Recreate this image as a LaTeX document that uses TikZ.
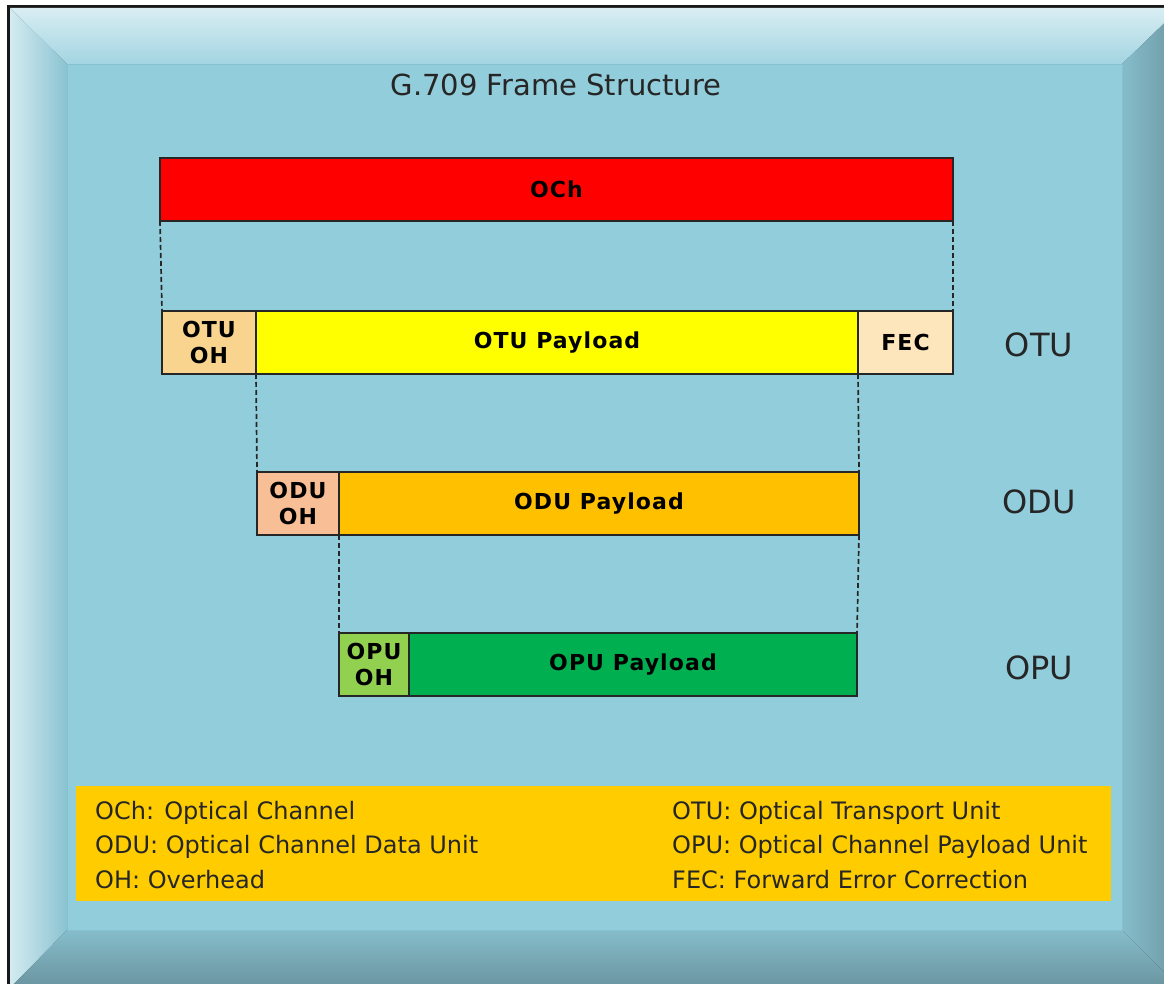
\documentclass[tikz,border=0pt]{standalone}
\usepackage{fontspec}
\setmainfont{DejaVu Sans}
\usetikzlibrary{positioning}
\definecolor{panel}{HTML}{92CDDC}
\definecolor{panelEdge}{HTML}{86C1D0}
\definecolor{ochRed}{HTML}{FF0000}
\definecolor{otuYellow}{HTML}{FFFF00}
\definecolor{otuOHfill}{HTML}{F9D48E}
\definecolor{fecFill}{HTML}{FDE6BC}
\definecolor{oduOHfill}{HTML}{F8BE95}
\definecolor{oduAmber}{HTML}{FFC000}
\definecolor{opuOHfill}{HTML}{92D050}
\definecolor{opuGreen}{HTML}{00B050}
\definecolor{keyGold}{HTML}{FFCC00}
\tikzset{
    seg/.style={draw=black!85, line width=1.2pt, minimum height=63pt, inner sep=0pt, outer sep=0pt,
        font=\fontsize{22}{26.5}\selectfont\bfseries\addfontfeatures{LetterSpace=5}, align=center, text=black},
    guide/.style={line width=1.7pt, black!85, dash pattern=on 5pt off 3pt},
    unit label/.style={font=\fontsize{32}{32}\selectfont, text=black!85, anchor=base},
    key text/.style={font=\fontsize{24}{28}\selectfont, text=black!85, anchor=base west, inner sep=0pt},
    title text/.style={font=\fontsize{29}{32}\selectfont, text=black!85, anchor=base}
}

\begin{document}
\begin{tikzpicture}[x=1pt, y=-1pt]
      \useasboundingbox (0,0) rectangle (1164,984);

      % --- Bevelled frame ---
      \fill[white] (0,0) rectangle (1164,984);
      \fill[black!90] (7,5) rectangle (1182,990);
      \shade[top color=panel!35!white, bottom color=panel!85!white] (10,8) -- (1180,8) -- (1122,64) -- (67,64) -- cycle;
      \shade[left color=panel!40!white, right color=panel!95!black] (10,8) -- (67,64) -- (67,930) -- (10,988) -- cycle;
      \shade[left color=panel!92!black, right color=panel!74!black] (1180,8) -- (1122,64) -- (1122,930) -- (1180,988) -- cycle;
      \shade[top color=panel!92!black, bottom color=panel!72!black] (10,988) -- (67,930) -- (1122,930) -- (1180,988) -- cycle;
      \fill[panel] (67,64) rectangle (1122,930);
      \draw[panelEdge, line width=0.8pt] (67,64) rectangle (1122,930);

      \node[title text] (title) at (556,96) {G.709 Frame Structure};

      % --- OCh ---
      \node (och) [seg, fill=ochRed, minimum width=793pt, anchor=north west] at (160,158) {OCh};

      % --- OTU ---
      \node (otuOH) [seg, fill=otuOHfill, minimum width=94pt, anchor=north west] at (162,311) {OTU\\OH};
      \node (otuPay) [seg, fill=otuYellow, minimum width=602pt, right=0pt of otuOH] {OTU Payload};
      \node (fec) [seg, fill=fecFill, minimum width=95pt, right=0pt of otuPay] {FEC};
      \node (lblOTU) [unit label] at (1039,356) {OTU};

      % --- ODU ---
      \node (oduOH) [seg, fill=oduOHfill, minimum width=82pt, anchor=north west] at (257,472) {ODU\\OH};
      \node (oduPay) [seg, fill=oduAmber, minimum width=520pt, right=0pt of oduOH] {ODU Payload};
      \node (lblODU) [unit label] at (1039,513) {ODU};

      % --- OPU ---
      \node (opuOH) [seg, fill=opuOHfill, minimum width=70pt, anchor=north west] at (339,633) {OPU\\OH};
      \node (opuPay) [seg, fill=opuGreen, minimum width=448pt, right=0pt of opuOH] {OPU Payload};
      \node (lblOPU) [unit label] at (1039,679) {OPU};

      % --- Mapping guides ---
      \draw[guide] (och.south west) -- (otuOH.north west);
      \draw[guide] (och.south east) -- (fec.north east);
      \draw[guide] (otuPay.south west) -- (oduOH.north west);
      \draw[guide] (otuPay.south east) -- (oduPay.north east);
      \draw[guide] (oduPay.south west) -- (opuOH.north west);
      \draw[guide] (oduPay.south east) -- (opuPay.north east);

      % --- Key ---
      \node (key) [fill=keyGold, minimum width=1035pt, minimum height=115pt, inner sep=0pt, anchor=north west] at (76,786) {};
      \node (keyOCh) [key text] at (95,819) {OCh: Optical Channel};
      \node (keyODU) [key text] at (95,853) {ODU: Optical Channel Data Unit};
      \node (keyOH) [key text] at (95,888) {OH: Overhead};
      \node (keyOTU) [key text] at (672,819) {OTU: Optical Transport Unit};
      \node (keyOPU) [key text] at (672,853) {OPU: Optical Channel Payload Unit};
      \node (keyFEC) [key text] at (672,888) {FEC: Forward Error Correction};
\end{tikzpicture}
\end{document}
